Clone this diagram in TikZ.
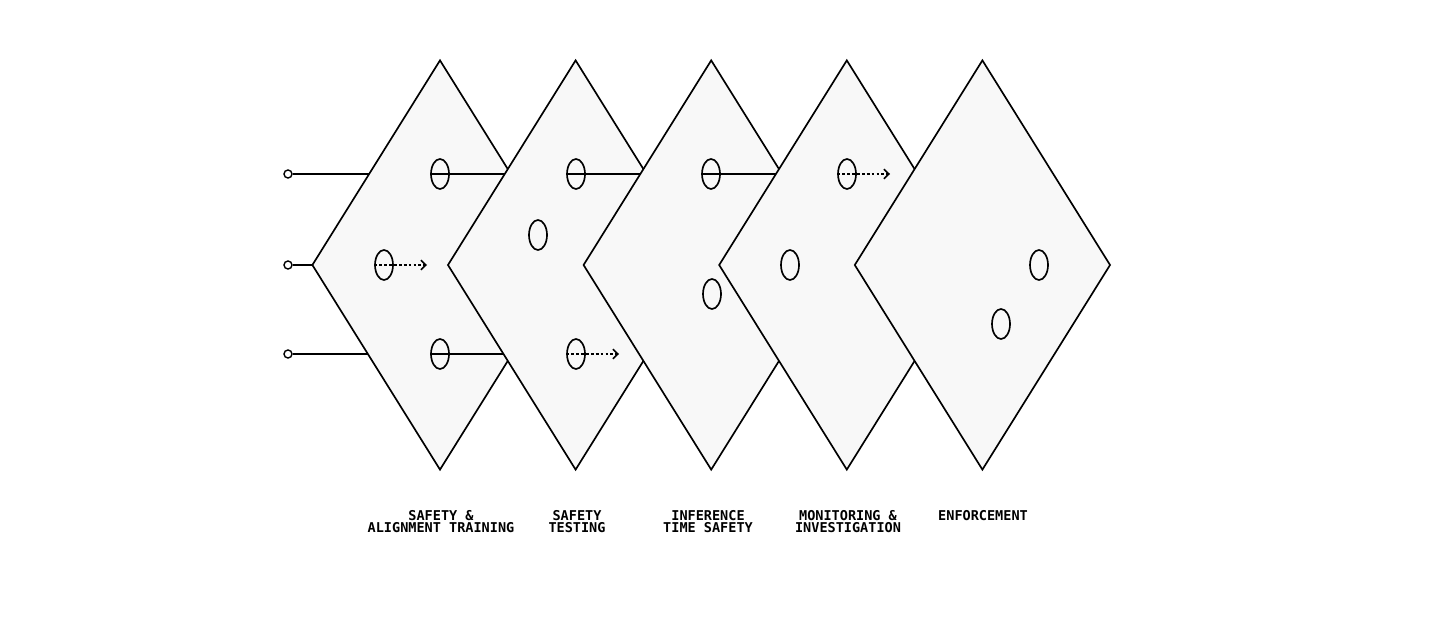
\documentclass[tikz,border=0pt]{standalone}
\usepackage{fontspec}
\newfontfamily\capfont{DejaVu Sans Mono}
\usetikzlibrary{shapes.geometric,arrows.meta}
\definecolor{platefill}{HTML}{F8F8F8}
\pgfdeclarelayer{ray0}\pgfdeclarelayer{plate1}\pgfdeclarelayer{ray1}
\pgfdeclarelayer{plate2}\pgfdeclarelayer{ray2}\pgfdeclarelayer{plate3}
\pgfdeclarelayer{ray3}\pgfdeclarelayer{plate4}\pgfdeclarelayer{plate5}
\pgfsetlayers{ray0,plate1,ray1,plate2,ray2,plate3,ray3,plate4,plate5,main}
\tikzset{
  plate/.style = {diamond, draw = black, fill = platefill, line width = 0.95pt,
    inner sep = 0pt, minimum width = 5.12cm, minimum height = 8.2cm},
  hole/.style = {ellipse, draw = black, line width = 0.95pt, inner sep = 0pt,
    minimum width = 0.36cm, minimum height = 0.6cm},
  source/.style = {circle, draw = black, fill = white, line width = 0.8pt,
    inner sep = 0pt, minimum size = 0.16cm},
  ray/.style = {line width = 0.95pt},
  blocked/.style = {line width = 0.9pt, dash pattern = on 1.6pt off 1.2pt,
    -{Straight Barb[length = 2.8pt, width = 5.5pt]}},
  caption/.style = {font = \capfont\bfseries\fontsize{7.7}{7.2}\selectfont,
    align = center, anchor = north}
}
\begin{document}
\begin{tikzpicture}[x = 0.02cm, y = -0.02cm]
\useasboundingbox (0,0) rectangle (1456,638);
% the five layers
\begin{pgfonlayer}{plate1}\node[plate] (L1) at (440,265) {};\end{pgfonlayer}
\begin{pgfonlayer}{plate2}\node[plate] (L2) at (575.6,265) {};\end{pgfonlayer}
\begin{pgfonlayer}{plate3}\node[plate] (L3) at (711.2,265) {};\end{pgfonlayer}
\begin{pgfonlayer}{plate4}\node[plate] (L4) at (846.8,265) {};\end{pgfonlayer}
\begin{pgfonlayer}{plate5}\node[plate] (L5) at (982.4,265) {};\end{pgfonlayer}
% sources
\node[source] (in1) at (288,174) {};
\node[source] (in2) at (288,265) {};
\node[source] (in3) at (288,354) {};
% holes
\node[hole] (h11) at (440,174) {};
\node[hole] (h12) at (384,265) {};
\node[hole] (h13) at (440,354) {};
\node[hole] (h21) at (576,174) {};
\node[hole] (h22) at (538,235) {};
\node[hole] (h23) at (576,354) {};
\node[hole] (h31) at (711,174) {};
\node[hole] (h32) at (712,294) {};
\node[hole] (h41) at (847,174) {};
\node[hole] (h42) at (790,265) {};
\node[hole] (h51) at (1039,265) {};
\node[hole] (h52) at (1001,324) {};
% rays through the holes
\begin{pgfonlayer}{ray0}
\draw[ray] (in1) -- (h11.west);
\draw[ray] (in2) -- (h12.west);
\draw[ray] (in3) -- (h13.west);
\end{pgfonlayer}
\begin{pgfonlayer}{ray1}
\draw[ray] (h11.west) -- (h21.west);
\draw[ray] (h13.west) -- (h23.west);
\end{pgfonlayer}
\begin{pgfonlayer}{ray2}
\draw[ray] (h21.west) -- (h31.west);
\end{pgfonlayer}
\begin{pgfonlayer}{ray3}
\draw[ray] (h31.west) -- (h41.west);
\end{pgfonlayer}
% stopped rays
\coordinate (stop1) at (890,174);
\coordinate (stop2) at (427,265);
\coordinate (stop3) at (619,354);
\draw[blocked] (h41.west) -- (stop1);
\draw[blocked] (h12.west) -- (stop2);
\draw[blocked] (h23.west) -- (stop3);
% captions
\node[caption] (c1) at (441,504) {SAFETY \&\\ALIGNMENT TRAINING};
\node[caption] (c2) at (577,504) {SAFETY\\TESTING};
\node[caption] (c3) at (708,504) {INFERENCE\\TIME SAFETY};
\node[caption] (c4) at (848,504) {MONITORING \&\\INVESTIGATION};
\node[caption] (c5) at (983,504) {ENFORCEMENT};
\end{tikzpicture}
\end{document}
